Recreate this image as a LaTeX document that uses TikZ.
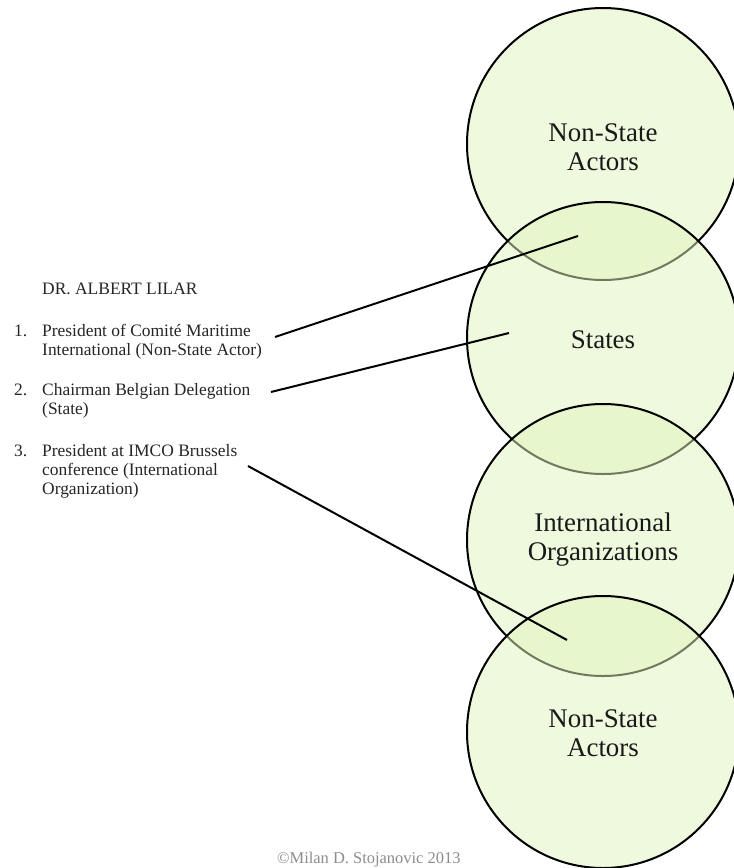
\documentclass[tikz,border=0pt]{standalone}
\usepackage{fontspec}
\setmainfont{Liberation Serif}
\definecolor{circfill}{RGB}{224,245,188}
\begin{document}
\begin{tikzpicture}[x=1bp,y=-1bp,
  actor/.style={circle, minimum size=272bp, inner sep=0pt, draw=black, line width=2bp,
     fill=circfill, fill opacity=0.5, draw opacity=1, text opacity=1},
  ctext/.style={align=center, font=\fontsize{27}{29}\selectfont, text=black!90},
  ltext/.style={anchor=base west, inner sep=0pt, font=\fontsize{17.5}{19.5}\selectfont, text=black!85},
  conn/.style={line width=2bp, draw=black}]
\useasboundingbox (0,0) rectangle (734,868);
\clip (0,0) rectangle (734,868);
\fill[white] (0,0) rectangle (734,868);
% circles
\node[actor] (c1) at (603,144) {};
\node[actor] (c2) at (603,338) {};
\node[actor] (c3) at (603,540) {};
\node[actor] (c4) at (603,732) {};
\node[ctext] (t1) at (603,147) {Non-State\\Actors};
\node[ctext] (t2) at (603,340) {States};
\node[ctext] (t3) at (603,540) {International\\Organizations};
\node[ctext] (t4) at (603,733) {Non-State\\Actors};
% left text
\node[ltext] (title) at (42,294) {DR. ALBERT LILAR};
\node[ltext] (n1) at (14,336) {1.};
\node[ltext] (i1) at (42,336) {\parbox[t]{260bp}{\raggedright President of Comité Maritime\\International (Non-State Actor)}};
\node[ltext] (n2) at (14,395) {2.};
\node[ltext] (i2) at (42,395) {\parbox[t]{260bp}{\raggedright Chairman Belgian Delegation\\(State)}};
\node[ltext] (n3) at (14,456) {3.};
\node[ltext] (i3) at (42,456) {\parbox[t]{260bp}{\raggedright President at IMCO Brussels\\conference (International\\Organization)}};
% connectors
\coordinate (s1) at (275,337);
\coordinate (e1) at (578,236);
\coordinate (s2) at (271,392);
\coordinate (e2) at (509,333);
\coordinate (s3) at (248,466);
\coordinate (e3) at (567,640);
\draw[conn] (s1) -- (e1);
\draw[conn] (s2) -- (e2);
\draw[conn] (s3) -- (e3);
% copyright
\node[anchor=base west, inner sep=0pt, font=\fontsize{16.5}{18}\selectfont, text=black!45] (copy) at (277,863) {©Milan D. Stojanovic 2013};
\end{tikzpicture}
\end{document}
